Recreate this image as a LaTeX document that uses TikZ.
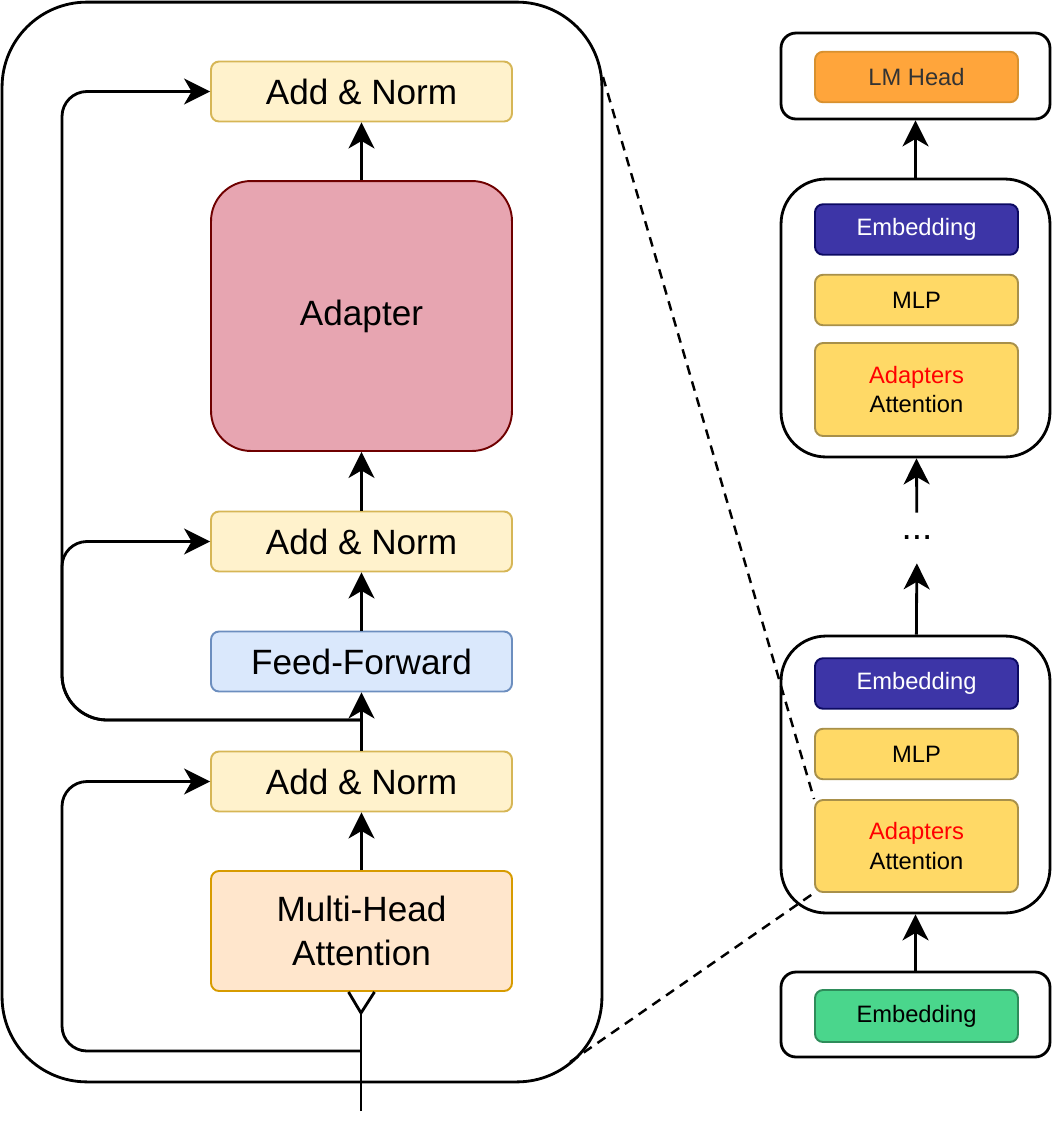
\documentclass[tikz,border=0pt]{standalone}
\usepackage{fontspec}
\setmainfont{Liberation Sans}
\usetikzlibrary{arrows.meta}

\definecolor{normfill}{HTML}{FFF2CC}
\definecolor{normline}{HTML}{D6B656}
\definecolor{adptfill}{HTML}{E7A5B1}
\definecolor{adptline}{HTML}{6F0000}
\definecolor{fffill}{HTML}{DAE8FC}
\definecolor{ffline}{HTML}{6C8EBF}
\definecolor{mhafill}{HTML}{FFE6CC}
\definecolor{mhaline}{HTML}{D79B00}
\definecolor{headfill}{HTML}{FFA53B}
\definecolor{headline}{HTML}{D8912F}
\definecolor{embfill}{HTML}{3D35A7}
\definecolor{embline}{HTML}{0C0A62}
\definecolor{mlpfill}{HTML}{FFD966}
\definecolor{mlpline}{HTML}{A8904A}
\definecolor{inpfill}{HTML}{4AD68C}
\definecolor{inpline}{HTML}{2E8C5A}

\tikzset{
  arr/.style={-{Stealth[length=0.52cm,width=0.52cm,inset=0.15cm]},line width=1.6pt},
  big/.style={draw,line width=1.1pt,rounded corners=0.16cm,minimum width=6.02cm,
    minimum height=1.2cm,align=center,font=\fontsize{20}{25}\selectfont},
  small/.style={draw,line width=1.1pt,rounded corners=0.16cm,minimum width=4.06cm,
    minimum height=1.01cm,align=center,font=\fontsize{13.5}{17}\selectfont},
  frame/.style={draw,line width=1.6pt,minimum width=5.38cm},
  zoomline/.style={line width=1.4pt,dash pattern=on 5.5pt off 4pt}
}

\begin{document}
\begin{tikzpicture}[x=0.02cm,y=-0.02cm]
 \useasboundingbox (0,0) rectangle (1053,1137);

 % one transformer layer, opened up
 \node[draw,line width=1.6pt,rounded corners=1.7cm,minimum width=12cm,minimum height=21.6cm] (layer) at (302,542){};

 \node[big,fill=normfill,draw=normline] (an3) at (361.5,91.5){Add \& Norm};
 \node[big,fill=adptfill,draw=adptline,rounded corners=0.8cm,minimum height=5.4cm] (adp) at (361.5,316){Adapter};
 \node[big,fill=normfill,draw=normline] (an2) at (361.5,541.5){Add \& Norm};
 \node[big,fill=fffill,draw=ffline] (ff) at (361.5,661.5){Feed-Forward};
 \node[big,fill=normfill,draw=normline] (an1) at (361.5,781.5){Add \& Norm};
 \node[big,fill=mhafill,draw=mhaline,minimum height=2.4cm] (mha) at (361.5,931){Multi-Head\\Attention};

 \coordinate (in) at (361,1111);
 \coordinate (fork) at (361,1013);
 \coordinate (res1) at (361,1051);
 \coordinate (res2) at (361,720);

 \draw[line width=1.6pt] (in) -- (fork);
 \draw[line width=1.6pt] ([xshift=-0.26cm]mha.south) -- (fork) -- ([xshift=0.26cm]mha.south);
 \draw[arr] (mha) -- (an1);
 \draw[arr] (an1) -- (ff);
 \draw[arr] (ff) -- (an2);
 \draw[arr] (an2) -- (adp);
 \draw[arr] (adp) -- (an3);

 % residual paths
 \draw[arr,rounded corners=0.5cm] (res1) -- (62,1051) -- (62,781.5) -- (an1.west);
 \draw[arr,rounded corners=0.9cm] (res2) -- (62,720) [rounded corners=0.5cm] -- (62,541.5) -- (an2.west);
 \draw[arr,rounded corners=0.9cm] (res2) -- (62,720) [rounded corners=0.5cm] -- (62,91.5) -- (an3.west);

 % model stack
 \node[frame,rounded corners=0.3cm,minimum height=1.72cm] (head) at (915.5,76){};
 \node[small,fill=headfill,draw=headline,text=black!80] (lm) at (916.5,77){LM Head};

 \node[frame,rounded corners=0.9cm,minimum height=5.56cm] (blk2) at (915.5,318){};
 \node[small,fill=embfill,draw=embline,text=white] (emb2) at (916.5,229.5){Embedding};
 \node[small,fill=mlpfill,draw=mlpline] (mlp2) at (916.5,300){MLP};
 \node[small,fill=mlpfill,draw=mlpline,minimum height=1.86cm] (att2) at (916.5,389.5){\textcolor{red}{Adapters}\\Attention};

 \node[font=\fontsize{21}{24}\selectfont,minimum height=1cm,inner sep=0pt] (dots) at (917,538){...};

 \node[frame,rounded corners=0.9cm,minimum height=5.54cm] (blk1) at (915.5,774.5){};
 \node[small,fill=embfill,draw=embline,text=white] (emb1) at (916.5,683.5){Embedding};
 \node[small,fill=mlpfill,draw=mlpline] (mlp1) at (916.5,754){MLP};
 \node[small,fill=mlpfill,draw=mlpline,minimum height=1.84cm] (att1) at (916.5,846){\textcolor{red}{Adapters}\\Attention};

 \node[frame,rounded corners=0.3cm,minimum height=1.7cm] (blk0) at (915.5,1014.5){};
 \node[small,fill=inpfill,draw=inpline,minimum height=1.04cm] (emb0) at (916.5,1016){Embedding};

 \draw[arr] (blk0) -- (blk1);
 \draw[arr] (blk1) -- (dots);
 \draw[arr] (dots) -- (blk2);
 \draw[arr] (blk2) -- (head);

 % zoom lines
 \coordinate (zt) at (603,77);
 \coordinate (zb) at (570,1062);
 \draw[zoomline] (zt) -- (att1.north west);
 \draw[zoomline] (zb) -- (att1.south west);
\end{tikzpicture}
\end{document}
